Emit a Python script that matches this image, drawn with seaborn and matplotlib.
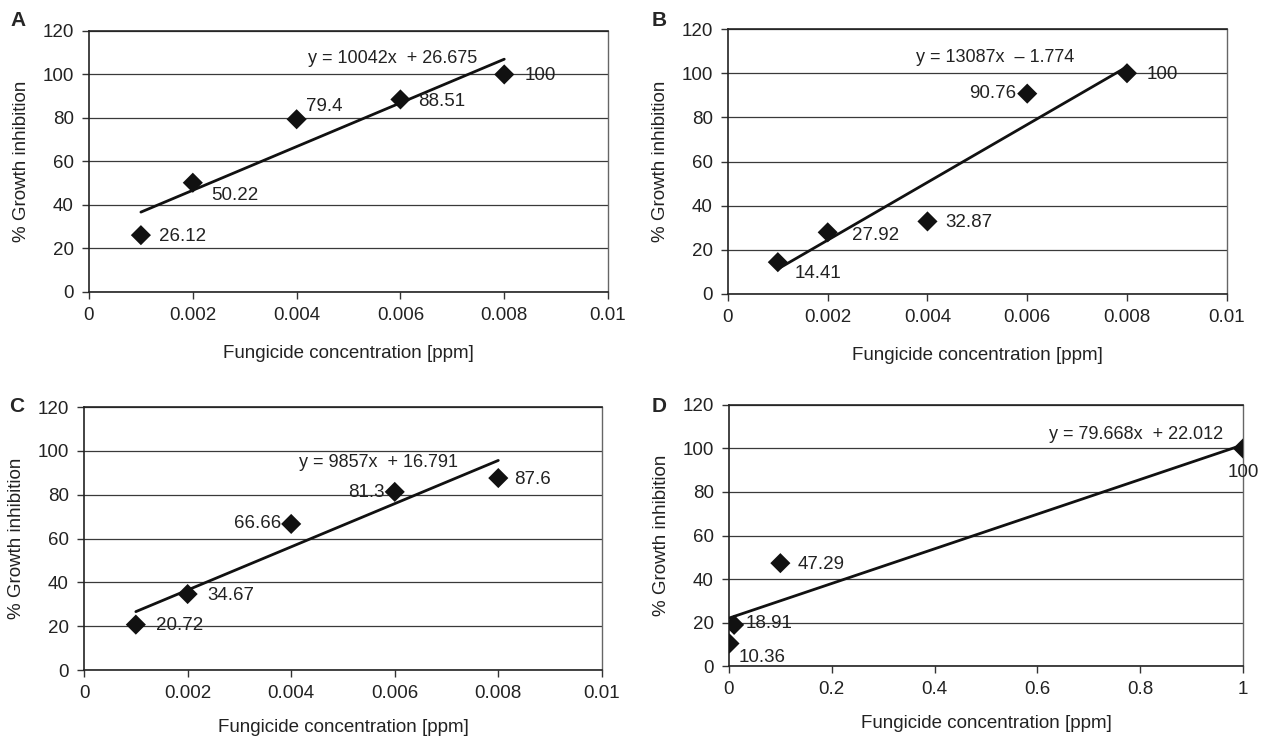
import matplotlib
matplotlib.use('Agg')
import matplotlib.pyplot as plt
import seaborn as sns
import numpy as np
import pandas as pd

# ---------------------------------------------------------------- data
conc_abc = [0.001, 0.002, 0.004, 0.006, 0.008]
conc_d = [0.001, 0.01, 0.1, 1.0]

inhib_a = [26.12, 50.22, 79.4, 88.51, 100]
inhib_b = [14.41, 27.92, 32.87, 90.76, 100]
inhib_c = [20.72, 34.67, 66.66, 81.3, 87.6]
inhib_d = [10.36, 18.91, 47.29, 100]

eq_a = 'y = 10042x  + 26.675'
eq_b = 'y = 13087x  \u2013 1.774'
eq_c = 'y = 9857x  + 16.791'
eq_d = 'y = 79.668x  + 22.012'

xticks_abc = [0, 0.002, 0.004, 0.006, 0.008, 0.01]
xticklabels_abc = ['0', '0.002', '0.004', '0.006', '0.008', '0.01']
xticks_d = [0, 0.2, 0.4, 0.6, 0.8, 1]
xticklabels_d = ['0', '0.2', '0.4', '0.6', '0.8', '1']
yticks = [0, 20, 40, 60, 80, 100, 120]

# ---------------------------------------------------------------- style
sns.set_theme(style='white')
plt.rcParams['font.family'] = ['Liberation Sans', 'DejaVu Sans']
plt.rcParams['font.size'] = 13

FS = 13.5
TXT = '#222222'

fig = plt.figure(figsize=(12.66, 7.42), dpi=100)

panels = [
    # letter, x, y, eq, axes rect, letter pos, label offsets (px), eq pos (data), xlabel pad
    ('A', conc_abc, inhib_a, eq_a, [0.0703, 0.6065, 0.410, 0.3518], (0.014, 0.973),
     [(18, -1, 'left'), (18, -13, 'left'), (9, 13, 'left'), (18, -2, 'left'), (20, -1, 'left')],
     (0.00585, 107.5), xticks_abc, xticklabels_abc, (0, 0.01), 15),
    ('B', conc_abc, inhib_b, eq_b, [0.575, 0.6038, 0.394, 0.357], (0.521, 0.973),
     [(17, -11, 'left'), (24, -3, 'left'), (18, -1, 'left'), (-11, 0, 'right'), (20, -1, 'left')],
     (0.00535, 107), xticks_abc, xticklabels_abc, (0, 0.01), 15),
    ('C', conc_abc, inhib_c, eq_c, [0.0664, 0.097, 0.409, 0.3544], (0.013, 0.452),
     [(20, -1, 'left'), (20, -1, 'left'), (-10, 0, 'right'), (-10, -1, 'right'), (16, -1, 'left')],
     (0.00568, 94.5), xticks_abc, xticklabels_abc, (0, 0.01), 12),
    ('D', conc_d, inhib_d, eq_d, [0.5758, 0.1024, 0.406, 0.3518], (0.521, 0.452),
     [(9, -14, 'left'), (12, 1, 'left'), (17, -1, 'left'), (0, -24, 'center')],
     (0.792, 106.5), xticks_d, xticklabels_d, (0, 1), 12),
]

for letter, xs, ys, eq, rect, lpos, offs, eqpos, xt, xtl, xlim, xpad in panels:
    ax = fig.add_axes(rect)
    df = pd.DataFrame({'conc': xs, 'inhib': ys})
    ax.set_axisbelow(True)
    ax.yaxis.grid(True, color='#3a3a3a', linewidth=0.9)
    sns.regplot(data=df, x='conc', y='inhib', ci=None, ax=ax,
                marker='D', color='#111111',
                scatter_kws={'s': 105, 'edgecolor': 'none', 'alpha': 1, 'zorder': 4},
                line_kws={'color': '#111111', 'linewidth': 2.0, 'zorder': 3})
    for xv, yv, (dx, dy, ha) in zip(xs, ys, offs):
        ax.annotate(f'{yv:g}', (xv, yv), xytext=(dx, dy), textcoords='offset pixels',
                    ha=ha, va='center', fontsize=FS, color=TXT, zorder=5)
    ax.text(eqpos[0], eqpos[1], eq, ha='center', va='center', fontsize=FS - 0.5, color=TXT)
    ax.set_xlim(*xlim)
    ax.set_ylim(0, 120)
    ax.set_xticks(xt)
    ax.set_xticklabels(xtl)
    ax.set_yticks(yticks)
    ax.tick_params(axis='both', direction='out', length=5, width=1, color='#333333',
                   labelsize=FS, labelcolor=TXT, pad=6,
                   bottom=True, left=True)
    ax.set_xlabel('Fungicide concentration [ppm]', fontsize=FS, color=TXT, labelpad=xpad)
    ax.set_ylabel('% Growth inhibition', fontsize=FS, color=TXT, labelpad=9)
    for side in ['left', 'bottom', 'top']:
        ax.spines[side].set_color('#222222')
        ax.spines[side].set_linewidth(1.2)
    ax.spines['right'].set_color('#666666')
    ax.spines['right'].set_linewidth(1.0)
    fig.text(lpos[0], lpos[1], letter, fontsize=15, fontweight='bold', ha='center', va='center')

fig.savefig('out.png', dpi=100)
